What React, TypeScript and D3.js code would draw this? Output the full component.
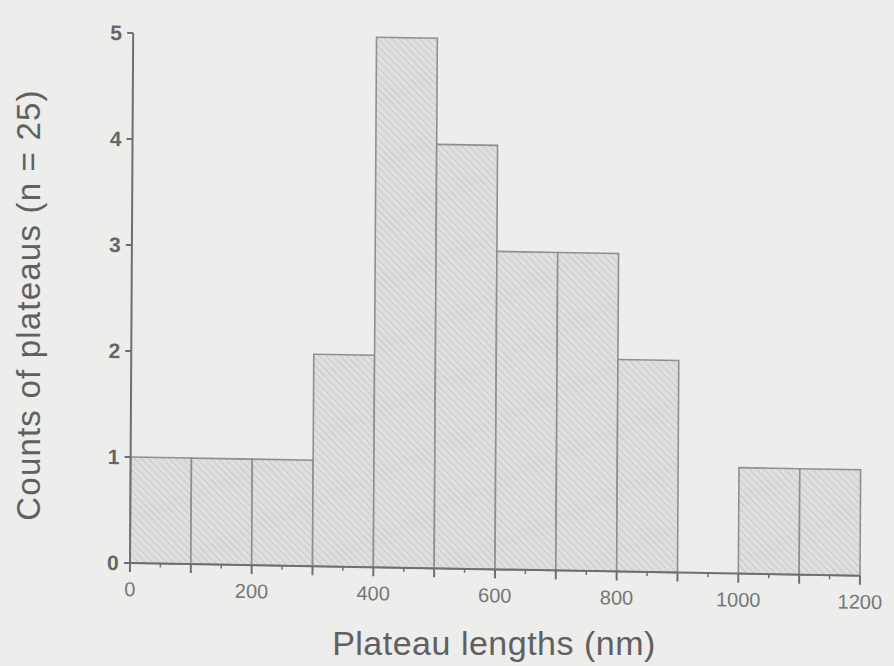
import React, { useEffect, useRef } from 'react';
import * as d3 from 'd3';

// histogram bins (nm) and counts
const binStarts = [0, 100, 200, 300, 400, 500, 600, 700, 800, 900, 1000, 1100];
const counts = [1, 1, 1, 2, 5, 4, 3, 3, 2, 0, 1, 1];
const binWidth = 100;
const xTicks = [0, 200, 400, 600, 800, 1000, 1200];
const yTicks = [0, 1, 2, 3, 4, 5];

const W = 894, H = 666;
const font = 'Liberation Sans, Arial, sans-serif';

const App = () => {
    const ref = useRef(null);

    useEffect(() => {
        const svg = d3.select(ref.current);
        svg.selectAll('*').remove();

        const x = d3.scaleLinear().domain([0, 1200]).range([130, 860]);
        const y = d3.scaleLinear().domain([0, 5]).range([563, 33]);

        svg.append('rect').attr('width', W).attr('height', H).attr('fill', '#ededeb');

        const defs = svg.append('defs');
        const pat = defs.append('pattern')
            .attr('id', 'hatch')
            .attr('patternUnits', 'userSpaceOnUse')
            .attr('width', 5).attr('height', 5)
            .attr('patternTransform', 'rotate(-45)');
        pat.append('rect').attr('width', 5).attr('height', 5).attr('fill', '#dfdfdd');
        pat.append('line').attr('x1', 0).attr('y1', 0).attr('x2', 0).attr('y2', 5)
            .attr('stroke', '#c4c4c2').attr('stroke-width', 1.6);

        // the photographed page is slightly tilted
        const g = svg.append('g')
            .attr('transform', 'translate(130,563) matrix(1,0.0175,-0.006,1,0,0) translate(-130,-563)');

        const data = binStarts.map((s, i) => ({ s, c: counts[i] })).filter(d => d.c > 0);
        g.selectAll('rect.bar')
            .data(data)
            .join('rect')
            .attr('class', 'bar')
            .attr('x', d => x(d.s))
            .attr('width', d => x(d.s + binWidth) - x(d.s))
            .attr('y', d => y(d.c))
            .attr('height', d => y(0) - y(d.c))
            .attr('fill', 'url(#hatch)')
            .attr('stroke', '#8f8f8f')
            .attr('stroke-width', 1.6);

        const axisColor = '#6f6f6f';
        // y axis
        g.append('line').attr('x1', x(0)).attr('x2', x(0)).attr('y1', y(5)).attr('y2', y(0))
            .attr('stroke', axisColor).attr('stroke-width', 2);
        yTicks.forEach(t => {
            g.append('line').attr('x1', x(0) - 6).attr('x2', x(0)).attr('y1', y(t)).attr('y2', y(t))
                .attr('stroke', axisColor).attr('stroke-width', 2);
            g.append('text').attr('x', x(0) - 17).attr('y', y(t)).attr('dy', '0.35em')
                .attr('text-anchor', 'middle')
                .attr('font-family', font)
                .attr('font-size', 21).attr('font-weight', 'bold').attr('fill', '#666')
                .text(t);
        });

        // x axis
        g.append('line').attr('x1', x(0)).attr('x2', x(1200)).attr('y1', y(0)).attr('y2', y(0))
            .attr('stroke', axisColor).attr('stroke-width', 2);
        d3.range(0, 1201, 50).forEach(t => {
            const major = t % 100 === 0;
            g.append('line').attr('x1', x(t)).attr('x2', x(t)).attr('y1', y(0))
                .attr('y2', y(0) + (major ? 9 : 4))
                .attr('stroke', axisColor).attr('stroke-width', major ? 2 : 1.5);
        });
        xTicks.forEach(t => {
            g.append('text').attr('x', x(t)).attr('y', y(0) + 33)
                .attr('text-anchor', 'middle')
                .attr('font-family', font)
                .attr('font-size', 20).attr('fill', '#777')
                .text(t);
        });

        svg.append('text')
            .attr('x', 494).attr('y', 655)
            .attr('text-anchor', 'middle')
            .attr('font-family', font)
            .attr('font-size', 34).attr('letter-spacing', 0.5).attr('fill', '#606060')
            .text('Plateau lengths (nm)');

        svg.append('text')
            .attr('transform', 'translate(40,305) rotate(-90)')
            .attr('text-anchor', 'middle')
            .attr('font-family', font)
            .attr('font-size', 33).attr('letter-spacing', 1.2).attr('fill', '#606060')
            .text('Counts of plateaus (n = 25)');
    }, []);

    return (
        <svg ref={ref} width={W} height={H} style={{ position: 'absolute', left: 0, top: 0 }} />
    );
};

export default App;
